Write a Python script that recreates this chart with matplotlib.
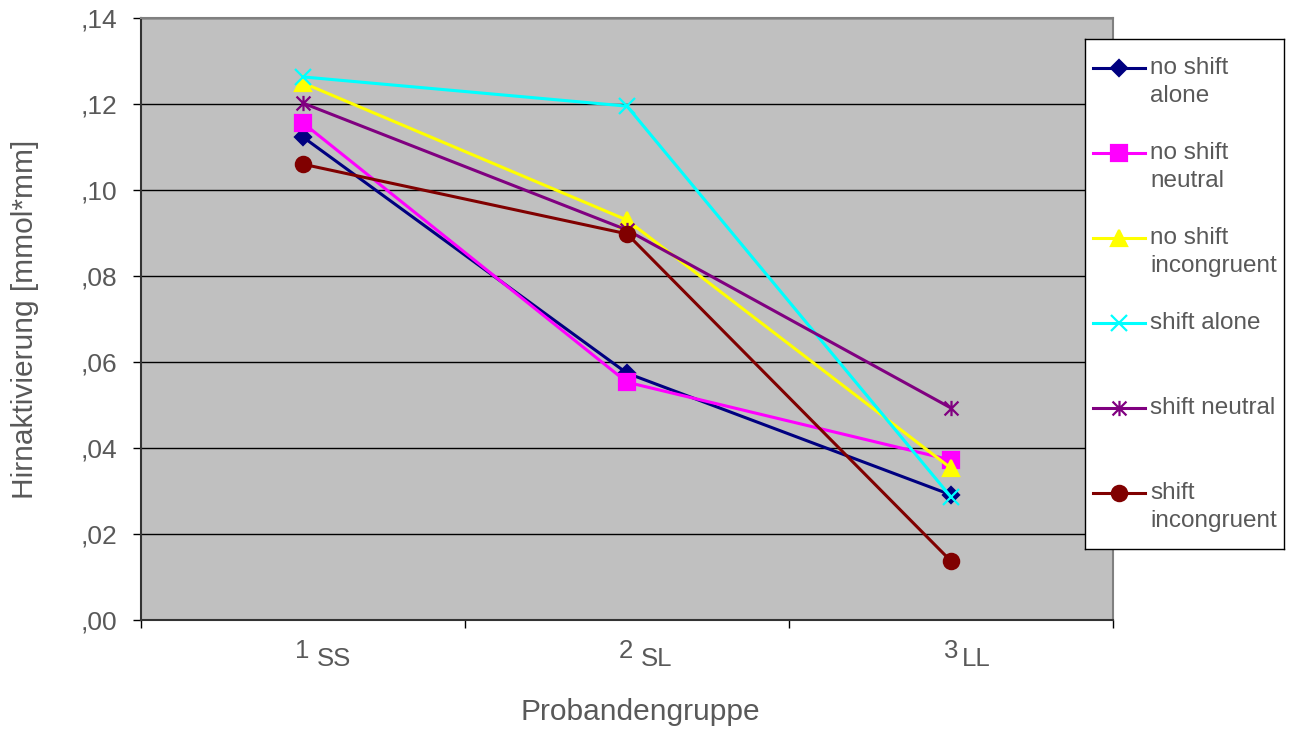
import numpy as np
import matplotlib
matplotlib.use('Agg')
import matplotlib.pyplot as plt
from matplotlib.path import Path
from matplotlib.transforms import blended_transform_factory

plt.rcParams['font.family'] = ['Liberation Sans', 'DejaVu Sans']
txt = '#595959'

# data
groups = ['1', '2', '3']
group_subs = ['SS', 'SL', 'LL']
labels = ['no shift\nalone', 'no shift\nneutral', 'no shift\nincongruent',
          'shift alone', 'shift neutral', 'shift\nincongruent']
no_shift_alone = [0.1123, 0.0574, 0.0291]
no_shift_neutral = [0.1156, 0.0553, 0.0372]
no_shift_incongruent = [0.1249, 0.0930, 0.0353]
shift_alone = [0.1263, 0.1195, 0.0286]
shift_neutral = [0.1202, 0.0907, 0.0493]
shift_incongruent = [0.1060, 0.0898, 0.0137]
yticks = [0.00, 0.02, 0.04, 0.06, 0.08, 0.10, 0.12, 0.14]

# excel-style star: an x with a vertical bar
star = Path([(-1, -1), (1, 1), (-1, 1), (1, -1), (0, -1.1), (0, 1.1)],
            [Path.MOVETO, Path.LINETO, Path.MOVETO, Path.LINETO,
             Path.MOVETO, Path.LINETO])

series = [no_shift_alone, no_shift_neutral, no_shift_incongruent,
          shift_alone, shift_neutral, shift_incongruent]
colors = ['#000080', '#FF00FF', '#FFFF00', '#00FFFF', '#800080', '#800000']
markers = ['D', 's', '^', 'x', star, 'o']
msizes = [8, 11, 11, 11, 11, 11]

fig = plt.figure(figsize=(12.99, 7.31), dpi=100)
ax = fig.add_axes([141/1299, 1-620/731, (1113-141)/1299, (620-18)/731])
ax.set_facecolor('#C0C0C0')

x = np.arange(len(groups))
for ys, c, m, ms in zip(series, colors, markers, msizes):
    ax.plot(x, ys, color=c, lw=2.2, marker=m, ms=ms, mew=1.6,
            mec=c, mfc=c, zorder=3)

ax.set_xlim(-0.5, 2.5)
ax.set_ylim(0, 0.14)
ax.set_yticks(yticks)
ax.set_yticklabels([('%.2f' % v).replace('0.', ',') for v in yticks],
                   fontsize=19, color=txt)
ax.tick_params(axis='y', length=6, width=1, color='black', pad=11)
ax.grid(axis='y', color='black', lw=1)
ax.set_axisbelow(True)

ax.set_xticks([])
ax.set_xticks([-0.5, 0.5, 1.5, 2.5], minor=True)
ax.tick_params(axis='x', which='minor', length=6, width=1, color='black')
ax.set_xticklabels([], minor=True)

for s in ['top', 'right']:
    ax.spines[s].set_color('#808080')
    ax.spines[s].set_linewidth(1.5)
for s in ['left', 'bottom']:
    ax.spines[s].set_color('#333333')
    ax.spines[s].set_linewidth(1.5)

# category labels with subscript part
tr = blended_transform_factory(ax.transData, fig.transFigure)
num_off = [-0.003, -0.003, 0.0]
sub_off = [0.043, 0.043, 0.034]
for i, (g, sub) in enumerate(zip(groups, group_subs)):
    ax.text(x[i] + num_off[i], 1-651/731, g, transform=tr, fontsize=18.5,
            color=txt, ha='center', va='center')
    ax.text(x[i] + sub_off[i], 1-659/731, sub, transform=tr, fontsize=18.5,
            color=txt, ha='left', va='center')

fig.text(640/1299, 1-712/731, 'Probandengruppe', fontsize=21.5, color=txt,
         ha='center', va='center')
fig.text(25/1299, 1-319/731, 'Hirnaktivierung [mmol*mm]', fontsize=21.5,
         color=txt, ha='center', va='center', rotation=90)

# legend box
lg = fig.add_axes([1085/1299, 1-549/731, (1284-1085)/1299, (549-39)/731])
lg.set_xlim(1085, 1284)
lg.set_ylim(549, 39)
lg.set_xticks([])
lg.set_yticks([])
for s in lg.spines.values():
    s.set_color('black')
    s.set_linewidth(1)
for i, (lab, c, m, ms) in enumerate(zip(labels, colors, markers, msizes)):
    yy = 68 + 85 * i
    lg.plot([1093, 1145], [yy, yy], color=c, lw=2.2)
    lg.plot([1119], [yy], color=c, marker=m, ms=ms, mew=1.6, mec=c, mfc=c)
    for j, line in enumerate(lab.split('\n')):
        lg.text(1150, yy + 28 * j, line, fontsize=17.5, color=txt,
                ha='left', va='center')

plt.savefig('out.png', dpi=100)
